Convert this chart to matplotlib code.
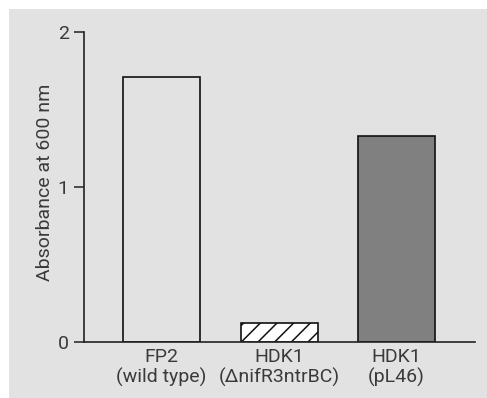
import matplotlib.pyplot as plt
from matplotlib.patches import Rectangle

# data
strains = ['FP2\n(wild type)', 'HDK1\n(\u0394nifR3ntrBC)', 'HDK1\n(pL46)']
absorbance = [1.71, 0.12, 1.33]
faces = ['none', 'white', '#808080']
hatches = [None, '//', None]

plt.rcParams['font.family'] = ['Roboto', 'DejaVu Sans']
plt.rcParams['hatch.linewidth'] = 1.1

fig = plt.figure(figsize=(4.87, 3.98), dpi=100)
fig.patch.set_facecolor('white')
fig.patches.append(Rectangle((9 / 487, 0), 1 - 9 / 487, 1 - 9 / 398, transform=fig.transFigure,
                             facecolor='#e2e2e2', edgecolor='none', zorder=-1))

ax = fig.add_axes([84 / 487, 1 - 342 / 398, (475 - 84) / 487, (342 - 32) / 398])
ax.set_facecolor('none')

x = range(len(strains))
for i in x:
    ax.bar(i, absorbance[i], width=0.655, facecolor=faces[i], edgecolor='#111111',
           linewidth=1.2, hatch=hatches[i])

ax.set_xlim(-0.66, 2.668)
ax.set_ylim(0, 2)
ax.set_yticks([0, 1, 2])
ax.set_xticks(list(x))
ax.set_xticklabels(strains, fontsize=14, color='#3a3a3a', linespacing=1.15)
ax.tick_params(axis='x', length=0, pad=4)
ax.tick_params(axis='y', length=7, width=1.1, labelsize=14, colors='#3a3a3a', pad=4)
ax.tick_params(axis='y', color='#222222')
for s in ['top', 'right']:
    ax.spines[s].set_visible(False)
for s in ['left', 'bottom']:
    ax.spines[s].set_linewidth(1.2)
    ax.spines[s].set_color('#222222')
ax.set_ylabel('Absorbance at 600 nm', fontsize=14, color='#3a3a3a', va='center')
ax.yaxis.set_label_coords(-0.1, 0.515)

fig.savefig('out.png', dpi=100)
